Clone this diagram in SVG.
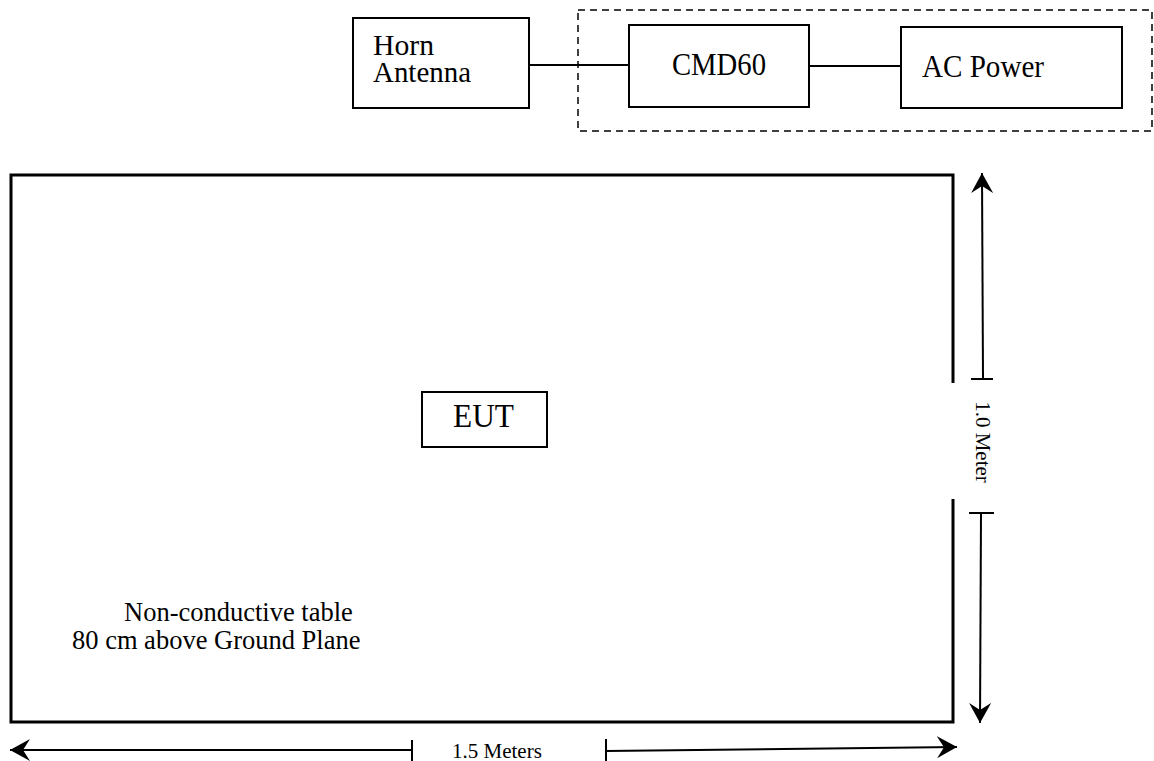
<svg xmlns="http://www.w3.org/2000/svg" width="1154" height="761" viewBox="0 0 1154 761">
<style>
  text { font-family: "Liberation Serif", "Times New Roman", serif; fill: #000; }
  .box { fill: #fff; stroke: #000; stroke-width: 2; }
  .wire { stroke: #000; stroke-width: 2; fill: none; }
  .dim { stroke: #000; stroke-width: 2; fill: none; }
  .tick { stroke: #000; stroke-width: 2; }
</style>
<defs>
  <marker id="ah" viewBox="0 0 20 22" refX="20" refY="11" markerWidth="20" markerHeight="22" markerUnits="userSpaceOnUse" orient="auto-start-reverse">
    <path d="M0,0 L20,11 L0,22 L7,11 Z" fill="#000"/>
  </marker>
</defs>
<rect width="1154" height="761" fill="#fff"/>

<g id="table">
  <path d="M953,383 V175 H11 V722 H953 V499" fill="none" stroke="#000" stroke-width="3"/>
  <text x="124" y="621" font-size="26.5">Non-conductive table</text>
  <text x="72" y="649" font-size="26.5">80 cm above Ground Plane</text>
</g>

<g id="group-dashed">
  <rect x="578" y="10" width="574" height="121" fill="none" stroke="#000" stroke-width="1.5" stroke-dasharray="7 5"/>
</g>

<g id="connectors">
  <line class="wire" x1="529" y1="65" x2="629" y2="65"/>
  <line class="wire" x1="809" y1="66" x2="901" y2="66"/>
</g>

<g id="horn">
  <rect class="box" x="353" y="18" width="176" height="90"/>
  <text x="373" y="55" font-size="30" textLength="61" lengthAdjust="spacingAndGlyphs">Horn</text>
  <text x="373" y="82" font-size="30" textLength="98" lengthAdjust="spacingAndGlyphs">Antenna</text>
</g>

<g id="cmd60">
  <rect class="box" x="629" y="25" width="180" height="82"/>
  <text x="672" y="75" font-size="32" textLength="94" lengthAdjust="spacingAndGlyphs">CMD60</text>
</g>

<g id="acpower">
  <rect class="box" x="901" y="27" width="221" height="81"/>
  <text x="922" y="77" font-size="32" textLength="122" lengthAdjust="spacingAndGlyphs">AC Power</text>
</g>

<g id="eut">
  <rect class="box" x="422" y="392" width="125" height="55"/>
  <text x="453" y="427" font-size="34" textLength="61" lengthAdjust="spacingAndGlyphs">EUT</text>
</g>

<g id="dim-vertical">
  <line class="dim" x1="983" y1="379" x2="982" y2="173" marker-end="url(#ah)" stroke-width="1.5"/>
  <line class="tick" x1="971" y1="379" x2="993" y2="379"/>
  <line class="dim" x1="981" y1="513" x2="980" y2="723" marker-end="url(#ah)" stroke-width="1.5"/>
  <line class="tick" x1="969" y1="513" x2="994" y2="513"/>
  <text transform="translate(976,442) rotate(90)" font-size="21" text-anchor="middle">1.0 Meter</text>
</g>

<g id="dim-horizontal">
  <line class="dim" x1="412" y1="750" x2="10" y2="750" marker-end="url(#ah)"/>
  <line class="tick" x1="412" y1="740" x2="412" y2="761"/>
  <line class="dim" x1="606" y1="751" x2="957" y2="747" marker-end="url(#ah)"/>
  <line class="tick" x1="606" y1="739" x2="606" y2="761"/>
  <text x="452" y="758" font-size="21">1.5 Meters</text>
</g>
</svg>
